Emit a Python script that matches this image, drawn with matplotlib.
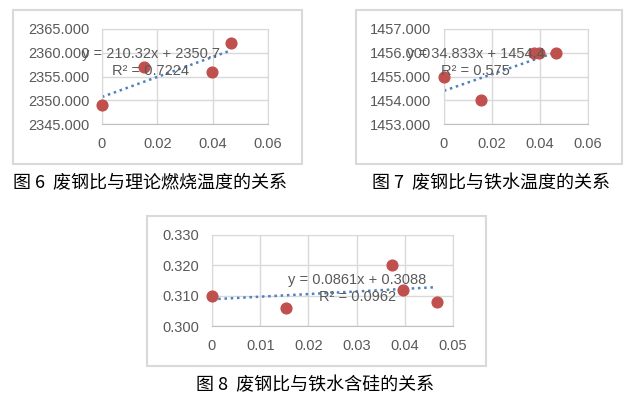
import matplotlib
matplotlib.use('Agg')
import matplotlib.pyplot as plt
from matplotlib.patches import Rectangle
import numpy as np

plt.rcParams['font.family'] = ['Liberation Sans', 'DejaVu Sans']

# scrap ratio (x) for each chart
x_temp = [0, 0.0153, 0.0396, 0.0466]
y_temp = [2349, 2357, 2356, 2362]
x_iron = [0, 0.0153, 0.0373, 0.0397, 0.0466]
y_iron = [1455, 1454, 1456, 1456, 1456]
x_si = [0, 0.0153, 0.0373, 0.0397, 0.0466]
y_si = [0.310, 0.306, 0.320, 0.312, 0.308]

fit_temp = (210.32, 2350.7)
fit_iron = (34.833, 1454.4)
fit_si = (0.0861, 0.3088)

eq_temp = ['y = 210.32x + 2350.7', 'R² = 0.7224']
eq_iron = ['y = 34.833x + 1454.4', 'R² = 0.575']
eq_si = ['y = 0.0861x + 0.3088', 'R² = 0.0962']

captions = ['图 6  废钢比与理论燃烧温度的关系', '图 7  废钢比与铁水温度的关系', '图 8  废钢比与铁水含硅的关系']

W, H = 634, 399
fig = plt.figure(figsize=(W / 100, H / 100), dpi=100)
fig.patch.set_facecolor('white')

grey = '#595959'
gridc = '#d9d9d9'


def px_axes(l, r, t, b):
    return fig.add_axes([l / W, 1 - b / H, (r - l) / W, (b - t) / H])


def frame(l, r, t, b):
    fig.patches.append(Rectangle((l / W, 1 - b / H), (r - l) / W, (b - t) / H,
                                 transform=fig.transFigure, fill=False,
                                 edgecolor='#d9d9d9', lw=1.5))


def draw(ax, xs, ys, fit, eq, xlim, xticks, xfmt, ylim, yticks, yfmt, eqpos):
    ax.set_xlim(*xlim)
    ax.set_ylim(*ylim)
    ax.set_xticks(xticks)
    ax.set_yticks(yticks)
    ax.set_xticklabels([xfmt(v) for v in xticks])
    ax.set_yticklabels([yfmt(v) for v in yticks])
    ax.grid(True, color=gridc, lw=1)
    ax.set_axisbelow(True)
    for s in ax.spines.values():
        s.set_color(gridc)
    ax.spines['bottom'].set_color('#bfbfbf')
    ax.tick_params(length=0, labelsize=10.5, colors=grey, pad=9)
    ax.scatter(xs, ys, s=60, color='#c0504d', zorder=3, clip_on=False)
    xx = np.array([0, max(xs)])
    ax.plot(xx, fit[0] * xx + fit[1], ls=(0, (1, 1.5)), color='#4f81bd', lw=1.8, zorder=2)
    ax.text(eqpos[0], eqpos[1], eq[0] + '\n' + eq[1], transform=ax.transAxes,
            ha='center', va='center', fontsize=10.5, color=grey, linespacing=1.25, zorder=4)


frame(13, 302, 10, 164)
ax1 = px_axes(102, 268, 29, 124)
draw(ax1, x_temp, y_temp, fit_temp, eq_temp, (0, 0.06), [0, 0.02, 0.04, 0.06],
     lambda v: '0' if v == 0 else '%g' % v, (2345, 2365), [2345, 2350, 2355, 2360, 2365],
     lambda v: '%.3f' % v, (0.295, 0.647))

frame(356, 622, 10, 164)
ax2 = px_axes(444, 588, 29, 124)
draw(ax2, x_iron, y_iron, fit_iron, eq_iron, (0, 0.06), [0, 0.02, 0.04, 0.06],
     lambda v: '0' if v == 0 else '%g' % v, (1453, 1457), [1453, 1454, 1455, 1456, 1457],
     lambda v: '%.3f' % v, (0.22, 0.647))

frame(147, 486, 216, 366)
ax3 = px_axes(212, 453, 235, 326)
draw(ax3, x_si, y_si, fit_si, eq_si, (0, 0.05), [0, 0.01, 0.02, 0.03, 0.04, 0.05],
     lambda v: '0' if v == 0 else '%g' % v, (0.300, 0.330), [0.300, 0.310, 0.320, 0.330],
     lambda v: '%.3f' % v, (0.604, 0.41))

cap_font = ['Noto Sans CJK SC', 'DejaVu Sans']
fig.text(13 / W, 1 - 183 / H, captions[0], fontsize=13, family=cap_font, va='center', ha='left')
fig.text(372 / W, 1 - 183 / H, captions[1], fontsize=13, family=cap_font, va='center', ha='left')
fig.text(196 / W, 1 - 385 / H, captions[2], fontsize=13, family=cap_font, va='center', ha='left')

fig.savefig('out.png', dpi=100)
